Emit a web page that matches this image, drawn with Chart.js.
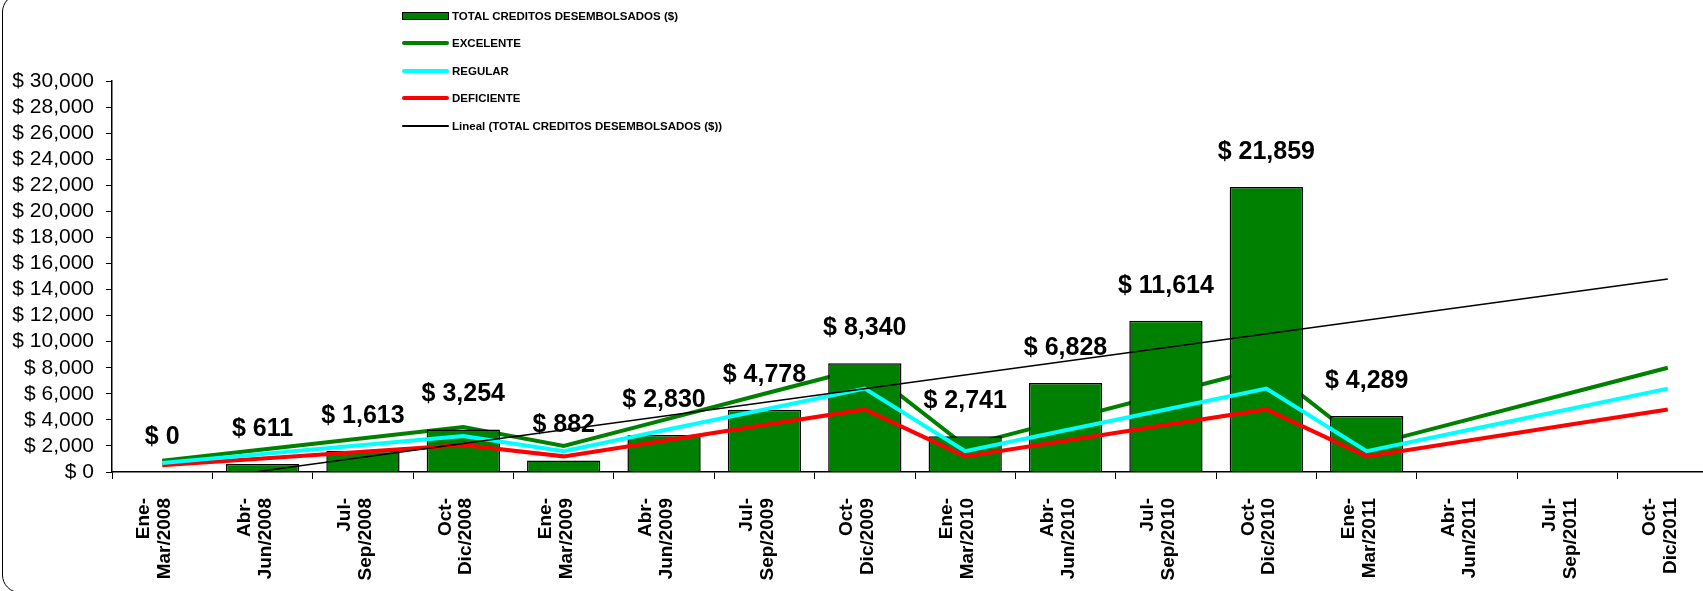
<!DOCTYPE html>
<html>
<head>
<meta charset="utf-8">
<title>Creditos desembolsados</title>
<script src="https://cdn.jsdelivr.net/npm/chart.js@4.4.1/dist/chart.umd.min.js"></script>
<style>
  html, body { margin: 0; padding: 0; background: #fff; overflow: hidden; }
  #wrap { position: relative; width: 1703px; height: 591px; overflow: hidden; }
  #frame { position: absolute; left: 2px; top: -6px; width: 1780px; height: 599px;
           border: 1.5px solid #000; border-radius: 18px; box-sizing: border-box; }
  #chartBox { position: absolute; left: 0; top: 0; width: 1730px; height: 591px; }
  #legend { position: absolute; left: 402px; top: 2px;
            font: bold 11.5px 'Liberation Sans', Arial, sans-serif; color: #000; }
  .row { height: 27.5px; display: flex; align-items: center; white-space: nowrap; }
  .swatch { width: 47px; margin-right: 3px; box-sizing: border-box; }
</style>
</head>
<body>
<div id="wrap">
  <div id="frame"></div>
  <div id="chartBox"><canvas id="myChart" width="1730" height="591"></canvas></div>
  <div id="legend"></div>
</div>
<script>
'use strict';

// ***** data *****
const categories = [
  ['Ene-', 'Mar/2008'], ['Abr-', 'Jun/2008'], ['Jul-', 'Sep/2008'], ['Oct-', 'Dic/2008'],
  ['Ene-', 'Mar/2009'], ['Abr-', 'Jun/2009'], ['Jul-', 'Sep/2009'], ['Oct-', 'Dic/2009'],
  ['Ene-', 'Mar/2010'], ['Abr-', 'Jun/2010'], ['Jul-', 'Sep/2010'], ['Oct-', 'Dic/2010'],
  ['Ene-', 'Mar/2011'], ['Abr-', 'Jun/2011'], ['Jul-', 'Sep/2011'], ['Oct-', 'Dic/2011']
];
const totalCreditos = [0, 611, 1613, 3254, 882, 2830, 4778, 8340, 2741, 6828, 11614, 21859, 4289, null, null, null];
const excelente = [860, 1720, 2590, 3450, 2000, 4000, 6000, 8000, 2000, 4000, 6000, 8000, 2000, 4000, 6000, 8000];
const regular = [690, 1380, 2070, 2760, 1600, 3200, 4800, 6400, 1600, 3200, 4800, 6400, 1600, 3200, 4800, 6400];
const deficiente = [520, 1040, 1550, 2070, 1200, 2400, 3600, 4800, 1200, 2400, 3600, 4800, 1200, 2400, 3600, 4800];
// trend line: values read at the first and last quarter
const lineal = [-970, null, null, null, null, null, null, null, null, null, null, null, null, null, null, 14810];
const yMin = 0;
const yMax = 30000;
const yStep = 2000;

const FONT = "'Liberation Sans', Arial, sans-serif";

function money(v) {
  return '$ ' + Number(v).toLocaleString('en-US');
}

// labels over the bars
const barLabels = {
  id: 'barLabels',
  afterDatasetsDraw(chart) {
    const meta = chart.getDatasetMeta(0);
    const ctx = chart.ctx;
    ctx.save();
    ctx.font = 'bold 25px ' + FONT;
    ctx.fillStyle = '#000';
    ctx.textAlign = 'center';
    ctx.textBaseline = 'middle';
    meta.data.forEach((bar, i) => {
      const v = totalCreditos[i];
      if (v === null) return;
      ctx.fillText(money(v), bar.x, bar.y - 35);
    });
    ctx.restore();
  }
};

const ctx = document.getElementById('myChart').getContext('2d');

const myChart = new Chart(ctx, {
  type: 'bar',
  data: {
    labels: categories,
    datasets: [
      {
        label: 'TOTAL CREDITOS DESEMBOLSADOS ($)',
        data: totalCreditos,
        backgroundColor: '#008000',
        borderColor: '#000',
        borderWidth: 1.5,
        categoryPercentage: 1,
        barPercentage: 0.73,
        order: 2
      },
      {
        type: 'line',
        label: 'EXCELENTE',
        data: excelente,
        borderColor: '#008000',
        borderWidth: 4,
        pointRadius: 0,
        tension: 0,
        order: 3
      },
      {
        type: 'line',
        label: 'REGULAR',
        data: regular,
        borderColor: '#00FFFF',
        borderWidth: 4,
        pointRadius: 0,
        tension: 0,
        order: 1
      },
      {
        type: 'line',
        label: 'DEFICIENTE',
        data: deficiente,
        borderColor: '#FF0000',
        borderWidth: 4,
        pointRadius: 0,
        tension: 0,
        order: 1
      },
      {
        type: 'line',
        label: 'Lineal (TOTAL CREDITOS DESEMBOLSADOS ($))',
        data: lineal,
        borderColor: '#000',
        borderWidth: 1.5,
        pointRadius: 0,
        spanGaps: true,
        order: 0
      }
    ]
  },
  options: {
    responsive: false,
    animation: false,
    layout: { padding: { top: 81, right: 12, left: 0, bottom: 0 } },
    plugins: {
      legend: { display: false },
      tooltip: { enabled: false }
    },
    scales: {
      x: {
        grid: { drawOnChartArea: false, color: '#000', tickLength: 7, lineWidth: 1 },
        border: { color: '#000', width: 1.5 },
        ticks: {
          color: '#000',
          font: { family: FONT, size: 19, weight: 'bold', lineHeight: 1.1 },
          minRotation: 90,
          maxRotation: 90,
          autoSkip: false,
          padding: 19,
          labelOffset: -18
        },
        afterFit: function (scale) { scale.height = 119; }
      },
      y: {
        min: yMin,
        max: yMax,
        grid: { drawOnChartArea: false, color: '#000', tickLength: 6 },
        border: { color: '#000', width: 1.5 },
        ticks: {
          stepSize: yStep,
          autoSkip: false,
          color: '#000',
          font: { family: FONT, size: 21 },
          padding: 12,
          callback: v => money(v)
        },
        afterFit: function (scale) { scale.width = 112; }
      }
    }
  },
  plugins: [barLabels]
});

// legend in the original's order
let legend = document.getElementById('legend');
myChart.data.datasets.forEach((ds, i) => {
  let row = document.createElement('div');
  row.className = 'row';
  let sw = document.createElement('span');
  sw.className = 'swatch';
  if (i === 0) {
    sw.style.height = '8px';
    sw.style.background = ds.backgroundColor;
    sw.style.border = '1.5px solid #000';
  } else {
    sw.style.height = ds.borderWidth + 'px';
    sw.style.background = ds.borderColor;
    sw.style.borderRadius = '2px';
  }
  let txt = document.createElement('span');
  txt.textContent = ds.label;
  row.appendChild(sw);
  row.appendChild(txt);
  legend.appendChild(row);
});
</script>
</body>
</html>
